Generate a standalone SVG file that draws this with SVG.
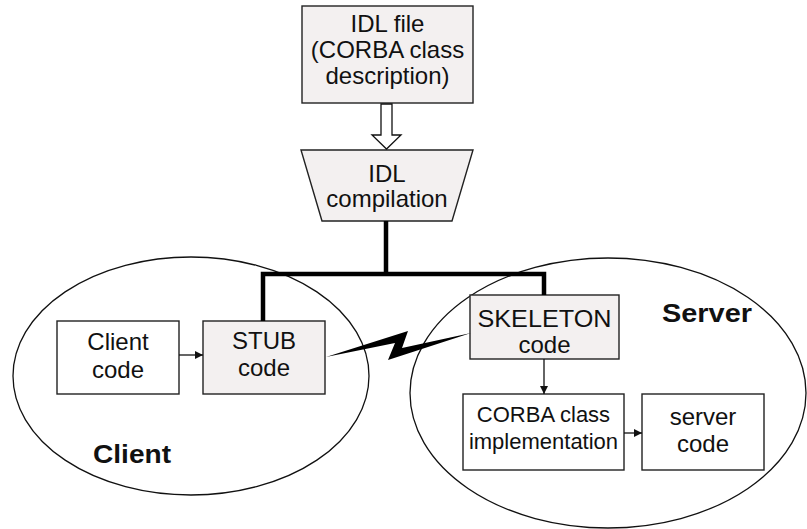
<svg xmlns="http://www.w3.org/2000/svg" width="807" height="529" viewBox="0 0 807 529">
<style>
.t{font-family:"Liberation Sans",Arial,sans-serif;font-size:24px;fill:#111;text-anchor:middle}
.b{font-family:"Liberation Sans",Arial,sans-serif;font-size:25px;font-weight:bold;fill:#111;text-anchor:middle}
.box{stroke:#222;stroke-width:1.4}
.g{fill:#f3f0f0}
.w{fill:#fff}
.ell{fill:none;stroke:#111;stroke-width:1.3}
.thin{stroke:#111;stroke-width:1.3;fill:none}
</style>
<defs>
<marker id="ah" viewBox="0 0 10 10" refX="10" refY="5" markerWidth="8" markerHeight="8" markerUnits="userSpaceOnUse" orient="auto">
<path d="M0,0 L10,5 L0,10 z" fill="#111"/>
</marker>
</defs>
<rect width="807" height="529" fill="#fff"/>
<g id="client-region">
<ellipse class="ell" cx="191" cy="376" rx="178" ry="119"/>
<text class="b" x="132" y="463" textLength="78" lengthAdjust="spacingAndGlyphs">Client</text>
</g>
<g id="server-region">
<ellipse class="ell" cx="608" cy="393" rx="198" ry="135"/>
<text class="b" x="707" y="322" textLength="90" lengthAdjust="spacingAndGlyphs">Server</text>
</g>
<g id="idl-file">
<rect class="box g" x="302" y="6" width="171" height="97"/>
<text class="t" x="387.5" y="32">IDL file</text>
<text class="t" x="387.5" y="58">(CORBA class</text>
<text class="t" x="387.5" y="84">description)</text>
</g>
<g id="idl-compilation">
<polygon class="box g" points="301,150 473,150 452,221 322,221"/>
<text class="t" x="387" y="182">IDL</text>
<text class="t" x="387" y="207">compilation</text>
</g>
<g id="client-code">
<rect class="box w" x="57" y="321" width="122" height="73"/>
<text class="t" x="118" y="350">Client</text>
<text class="t" x="118" y="378">code</text>
</g>
<g id="stub-code">
<rect class="box g" x="203" y="321" width="122" height="73"/>
<text class="t" x="264" y="349">STUB</text>
<text class="t" x="264" y="376">code</text>
</g>
<g id="skeleton-code">
<rect class="box g" x="470" y="295" width="149" height="64"/>
<text class="t" x="544.5" y="327" textLength="134" lengthAdjust="spacingAndGlyphs">SKELETON</text>
<text class="t" x="544.5" y="353">code</text>
</g>
<g id="corba-impl">
<rect class="box w" x="463" y="394" width="161" height="76"/>
<text class="t" x="543.5" y="422" style="font-size:22px">CORBA class</text>
<text class="t" x="543.5" y="449" style="font-size:22px">implementation</text>
</g>
<g id="server-code">
<rect class="box w" x="642" y="394" width="122" height="76"/>
<text class="t" x="703" y="425">server</text>
<text class="t" x="703" y="452">code</text>
</g>
<g id="connectors">
<polygon points="381,104 392,104 392,135 401,135 386.5,149 372,135 381,135" fill="#fff" stroke="#111" stroke-width="1.3"/>
<path d="M386,221 V274 M263,321 V274 H544 V295" fill="none" stroke="#000" stroke-width="4.5" stroke-linejoin="miter"/>
<polygon points="326,357 408,331 402,348 471,333 388,360 395,343" fill="#000"/>
<line class="thin" x1="179" y1="355" x2="203" y2="355" marker-end="url(#ah)"/>
<line class="thin" x1="544" y1="359" x2="544" y2="394" marker-end="url(#ah)"/>
<line class="thin" x1="624" y1="433" x2="642" y2="433" marker-end="url(#ah)"/>
</g>
</svg>
